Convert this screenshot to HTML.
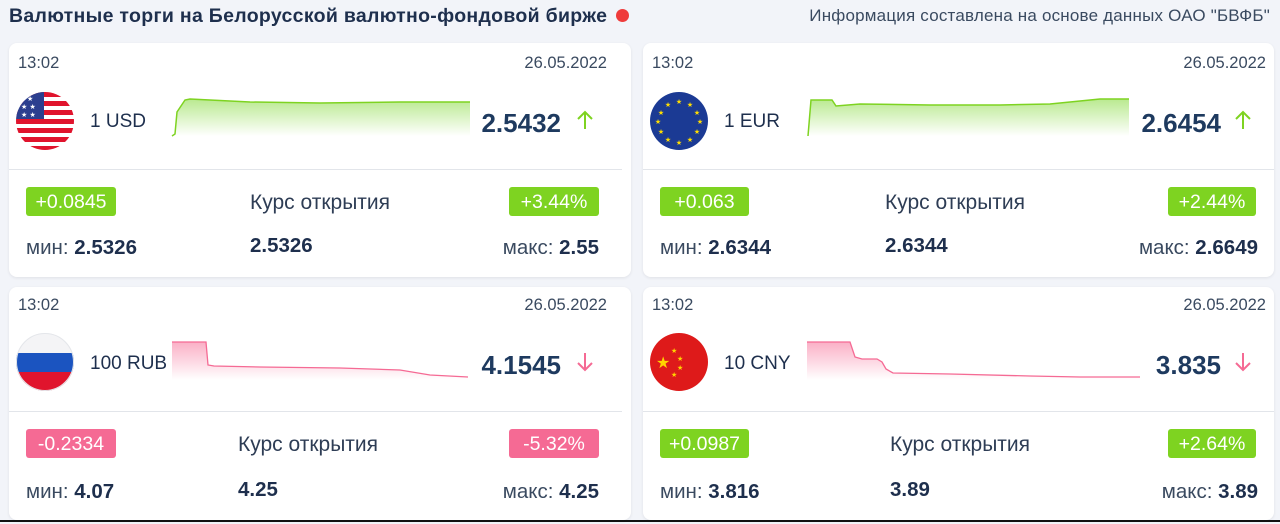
<!DOCTYPE html>
<html><head><meta charset="utf-8"><style>
body{margin:0;width:1280px;height:524px;background:#f2f4f9;font-family:"Liberation Sans",sans-serif;position:relative;overflow:hidden;color:#1e2f4d}
.t{position:absolute;white-space:nowrap}
.card{position:absolute;background:#fff;border-radius:8px;box-shadow:0 1px 3px rgba(0,0,0,.08)}
.sm{font-size:16.5px;color:#3a4a60}
.cur{font-size:19px;color:#1e2f4d}
.pr{font-size:26px;color:#1e3a5f;font-weight:bold}
.lbl{font-size:21px;color:#2e3d55}
.mm{font-size:20.5px;color:#3a4a60}
.mm b{color:#1e2f4d}
.badge{position:absolute;height:29px;line-height:30px;font-size:19.5px;color:#fff;text-align:center;border-radius:3px}
.g{background:#7ed321}.p{background:#f56a94}
.hr{position:absolute;height:1px;background:#e2e5ea}
</style></head><body>
<div class="t" style="left:9px;top:5px;font-size:19.5px;letter-spacing:0.3px;font-weight:bold;color:#1e2f4d">Валютные торги на Белорусской валютно-фондовой бирже</div>
<div style="position:absolute;left:616px;top:9px;width:13px;height:13px;border-radius:50%;background:#ef3b3b"></div>
<div class="t" style="right:10px;top:6px;font-size:17px;letter-spacing:0.2px;color:#3a4a60">Информация составлена на основе данных ОАО "БВФБ"</div>

<div class="card" style="left:9px;top:43px;width:622px;height:234px"></div>
<div class="card" style="left:643px;top:43px;width:631px;height:234px"></div>
<div class="card" style="left:9px;top:287px;width:622px;height:233px"></div>
<div class="card" style="left:643px;top:287px;width:631px;height:233px"></div>
<div style="position:absolute;left:0;top:520px;width:1280px;height:2px;background:#111"></div>

<svg width="1280" height="524" style="position:absolute;left:0;top:0">
<defs>
<linearGradient id="gg" x1="0" y1="0" x2="0" y2="1"><stop offset="0" stop-color="#9be060" stop-opacity=".7"/><stop offset="1" stop-color="#9be060" stop-opacity="0"/></linearGradient>
<linearGradient id="pg" x1="0" y1="0" x2="0" y2="1"><stop offset="0" stop-color="#f77ba0" stop-opacity=".6"/><stop offset="1" stop-color="#f77ba0" stop-opacity="0"/></linearGradient>
<clipPath id="c1"><circle cx="45" cy="121" r="29"/></clipPath>
</defs>
<path d="M172 136 L175 134 L177 112 L185 100 L190 99 L250 102 L320 103 L400 102 L470 102 L470 136Z" fill="url(#gg)"/>
<path d="M172 136 L175 134 L177 112 L185 100 L190 99 L250 102 L320 103 L400 102 L470 102" fill="none" stroke="#7ed321" stroke-width="1.5"/>
<path d="M808 136 L811 100 L832 100 L836 106 L860 104 L930 105 L1000 105 L1050 104 L1080 101 L1100 99 L1129 99 L1129 136Z" fill="url(#gg)"/>
<path d="M808 136 L811 100 L832 100 L836 106 L860 104 L930 105 L1000 105 L1050 104 L1080 101 L1100 99 L1129 99" fill="none" stroke="#7ed321" stroke-width="1.5"/>
<path d="M172 342 L206 342 L208 365 L214 366 L260 367 L340 368 L400 370 L430 375 L468 377 L468 380 L172 380Z" fill="url(#pg)"/>
<path d="M172 342 L206 342 L208 365 L214 366 L260 367 L340 368 L400 370 L430 375 L468 377" fill="none" stroke="#f56a94" stroke-width="1.3"/>
<path d="M807 342 L850 342 L855 357 L862 359 L877 359 L882 362 L886 369 L893 373 L950 374 L1030 376 L1080 377 L1140 377 L1140 380 L807 380Z" fill="url(#pg)"/>
<path d="M807 342 L850 342 L855 357 L862 359 L877 359 L882 362 L886 369 L893 373 L950 374 L1030 376 L1080 377 L1140 377" fill="none" stroke="#f56a94" stroke-width="1.3"/>

<g clip-path="url(#c1)">
<rect x="16" y="92" width="58" height="58" fill="#fff"/>
<g fill="#e0142d"><rect x="16" y="92" width="58" height="5"/><rect x="16" y="101" width="58" height="5"/><rect x="16" y="110" width="58" height="5"/><rect x="16" y="119" width="58" height="5"/><rect x="16" y="128" width="58" height="5"/><rect x="16" y="137" width="58" height="5"/><rect x="16" y="146" width="58" height="5"/></g>
<rect x="16" y="92" width="28" height="27" fill="#2c3f8f"/>
<g fill="#fff" font-size="7" font-family="DejaVu Sans"><text x="27" y="101">★</text><text x="21" y="109">★ ★</text><text x="21" y="117">★ ★</text></g>
</g>
<circle cx="679" cy="121" r="29" fill="#1b3a94"/>
<g fill="#ffdd00" font-size="7" font-family="DejaVu Sans" text-anchor="middle">
<text x="679" y="104">★</text><text x="679" y="145">★</text><text x="658" y="124">★</text><text x="700" y="124">★</text>
<text x="690" y="107">★</text><text x="668" y="107">★</text><text x="690" y="142">★</text><text x="668" y="142">★</text>
<text x="697" y="115">★</text><text x="661" y="115">★</text><text x="697" y="134">★</text><text x="661" y="134">★</text></g>
<clipPath id="c3"><circle cx="45" cy="362" r="29"/></clipPath>
<g clip-path="url(#c3)"><rect x="16" y="333" width="58" height="20" fill="#f4f4f6"/><rect x="16" y="353" width="58" height="19" fill="#1b54c0"/><rect x="16" y="372" width="58" height="19" fill="#e0142d"/></g>
<circle cx="45" cy="362" r="28.5" fill="none" stroke="#e4e6ea" stroke-width="1"/>
<circle cx="679" cy="362" r="29" fill="#de1a1a"/>
<g fill="#ffd400" font-family="DejaVu Sans"><text x="656" y="368" font-size="16">★</text><text x="671" y="353" font-size="7">★</text><text x="677" y="361" font-size="7">★</text><text x="677" y="370" font-size="7">★</text><text x="671" y="377" font-size="7">★</text></g>
<g stroke="#7ed321" stroke-width="2" fill="none"><path d="M585 129V112M578 119L585 112L592 119"/><path d="M1243 129V112M1236 119L1243 112L1250 119"/></g>
<g stroke="#f56a94" stroke-width="2" fill="none"><path d="M585 353V370M578 363L585 370L592 363"/><path d="M1243 353V370M1236 363L1243 370L1250 363"/></g>
</svg>

<div class="t sm" style="left:18px;top:54px">13:02</div>
<div class="t sm" style="right:673px;top:54px">26.05.2022</div>
<div class="t cur" style="left:90px;top:111px">1 USD</div>
<div class="t pr" style="right:719px;top:108px">2.5432</div>
<div class="hr" style="left:9px;top:169px;width:613px"></div>
<div class="badge g" style="left:26px;top:187px;width:90px">+0.0845</div>
<div class="t lbl" style="left:250px;top:191px">Курс открытия</div>
<div class="badge g" style="left:509px;top:187px;width:90px">+3.44%</div>
<div class="t mm" style="left:26px;top:236px">мин: <b>2.5326</b></div>
<div class="t mm" style="left:250px;top:234px"><b>2.5326</b></div>
<div class="t mm" style="right:681px;top:236px">макс: <b>2.55</b></div>

<div class="t sm" style="left:652px;top:54px">13:02</div>
<div class="t sm" style="right:14px;top:54px">26.05.2022</div>
<div class="t cur" style="left:724px;top:111px">1 EUR</div>
<div class="t pr" style="right:59px;top:108px">2.6454</div>
<div class="hr" style="left:643px;top:169px;width:631px"></div>
<div class="badge g" style="left:660px;top:187px;width:89px">+0.063</div>
<div class="t lbl" style="left:885px;top:191px">Курс открытия</div>
<div class="badge g" style="left:1168px;top:187px;width:88px">+2.44%</div>
<div class="t mm" style="left:660px;top:236px">мин: <b>2.6344</b></div>
<div class="t mm" style="left:885px;top:234px"><b>2.6344</b></div>
<div class="t mm" style="right:22px;top:236px">макс: <b>2.6649</b></div>

<div class="t sm" style="left:18px;top:296px">13:02</div>
<div class="t sm" style="right:673px;top:296px">26.05.2022</div>
<div class="t cur" style="left:90px;top:353px">100 RUB</div>
<div class="t pr" style="right:719px;top:350px">4.1545</div>
<div class="hr" style="left:9px;top:411px;width:613px"></div>
<div class="badge p" style="left:26px;top:429px;width:90px">-0.2334</div>
<div class="t lbl" style="left:238px;top:433px">Курс открытия</div>
<div class="badge p" style="left:509px;top:429px;width:90px">-5.32%</div>
<div class="t mm" style="left:26px;top:480px">мин: <b>4.07</b></div>
<div class="t mm" style="left:238px;top:478px"><b>4.25</b></div>
<div class="t mm" style="right:681px;top:480px">макс: <b>4.25</b></div>

<div class="t sm" style="left:652px;top:296px">13:02</div>
<div class="t sm" style="right:14px;top:296px">26.05.2022</div>
<div class="t cur" style="left:724px;top:353px">10 CNY</div>
<div class="t pr" style="right:59px;top:350px">3.835</div>
<div class="hr" style="left:643px;top:411px;width:631px"></div>
<div class="badge g" style="left:660px;top:429px;width:89px">+0.0987</div>
<div class="t lbl" style="left:890px;top:433px">Курс открытия</div>
<div class="badge g" style="left:1168px;top:429px;width:88px">+2.64%</div>
<div class="t mm" style="left:660px;top:480px">мин: <b>3.816</b></div>
<div class="t mm" style="left:890px;top:478px"><b>3.89</b></div>
<div class="t mm" style="right:22px;top:480px">макс: <b>3.89</b></div>
</body></html>
